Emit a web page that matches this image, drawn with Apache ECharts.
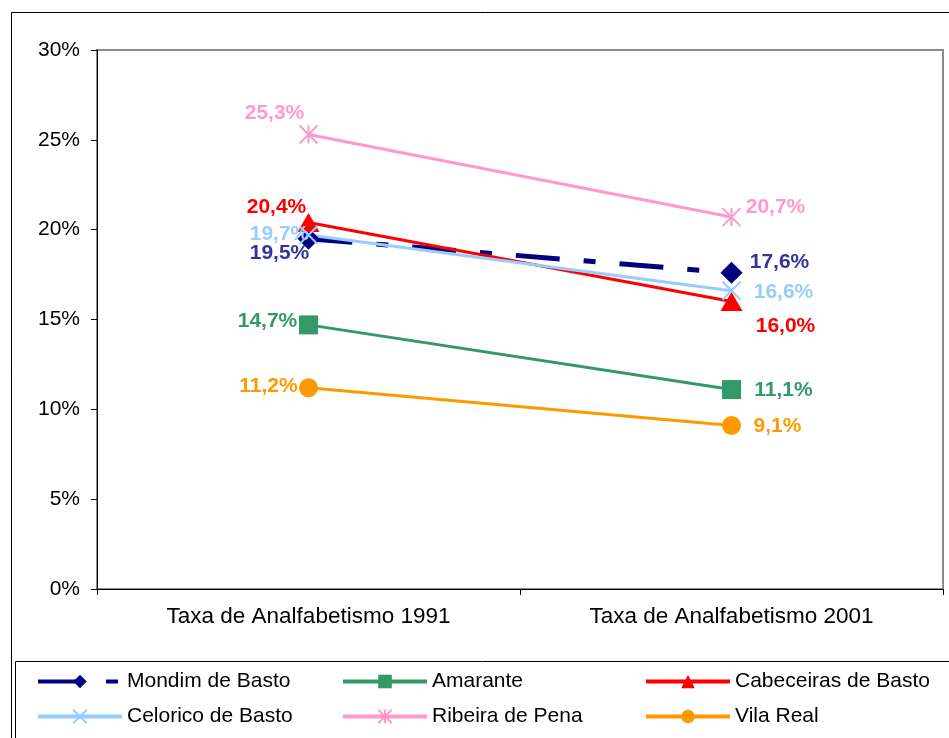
<!DOCTYPE html>
<html>
<head>
<meta charset="utf-8">
<script src="https://cdn.jsdelivr.net/npm/echarts@6/dist/echarts.min.js"></script>
<style>
  html, body { margin: 0; padding: 0; background: #fff; }
  #chart { width: 949px; height: 738px; }
</style>
</head>
<body>
<div id="chart"></div>
<script>
const categories = ['Taxa de Analfabetismo 1991', 'Taxa de Analfabetismo 2001'];
const seriesNames = ['Mondim de Basto', 'Amarante', 'Cabeceiras de Basto', 'Celorico de Basto', 'Ribeira de Pena', 'Vila Real'];
const mondim = [19.5, 17.6];
const amarante = [14.7, 11.1];
const cabeceiras = [20.4, 16.0];
const celorico = [19.7, 16.6];
const ribeira = [25.3, 20.7];
const vilaReal = [11.2, 9.1];
const yTicks = [0, 5, 10, 15, 20, 25, 30];

const font = 'Liberation Sans, Arial, sans-serif';
const fmt = v => v.toFixed(1).replace('.', ',') + '%';

// posição dos rótulos (deslocamento em relação ao marcador)
const styles = [
  { data: mondim, color: '#000080', labelColor: '#333399', symbol: 'diamond', size: 22,
    line: { width: 5, type: [44, 24, 12, 24] }, offsets: [[-29, 15], [48, -11]] },
  { data: amarante, color: '#339966', symbol: 'rect', size: 19, offsets: [[-41, -4], [52, 1]] },
  { data: cabeceiras, color: '#FF0000', symbol: 'triangle', size: [22, 19], offsets: [[-32, -15], [54, 25]] },
  { data: celorico, color: '#99CCFF', symbol: 'path://M0,0L10,10M10,0L0,10', size: 18, stroke: true, offsets: [[-29, -1], [52, 1]] },
  { data: ribeira, color: '#FF99CC', symbol: 'path://M0,0L10,10M10,0L0,10M5,0L5,10', size: 18, stroke: true, offsets: [[-34, -21], [44, -10]] },
  { data: vilaReal, color: '#FF9900', symbol: 'circle', size: 19, offsets: [[-40, -2], [46, 1]] }
];

const series = styles.map((s, i) => ({
  name: seriesNames[i],
  type: 'line',
  data: s.data.map((v, j) => ({
    value: v,
    label: { offset: s.offsets[j] }
  })),
  symbol: s.symbol,
  symbolSize: s.size,
  lineStyle: { color: s.color, width: s.line ? s.line.width : 3, type: s.line ? s.line.type : 'solid' },
  itemStyle: s.stroke
    ? { color: s.color, borderColor: s.color, borderWidth: 2 }
    : { color: s.color },
  label: {
    show: true,
    position: 'inside',
    formatter: p => fmt(p.value),
    color: s.labelColor || s.color,
    fontFamily: font,
    fontWeight: 'bold',
    fontSize: 21
  },
  emphasis: { disabled: true }
}));

const legendCols = [[seriesNames[0], seriesNames[3]], [seriesNames[1], seriesNames[4]], [seriesNames[2], seriesNames[5]]];
const legendLeft = [36, 341, 644];

const chart = echarts.init(document.getElementById('chart'));
chart.setOption({
  animation: false,
  backgroundColor: '#fff',
  grid: {
    left: 97, top: 50, right: 6, bottom: 149,
    show: true, borderColor: '#8c8c8c', borderWidth: 2
  },
  xAxis: {
    type: 'category',
    data: categories,
    boundaryGap: true,
    axisLine: { lineStyle: { color: '#000', width: 1 } },
    axisTick: { show: true, length: 6, lineStyle: { color: '#000' } },
    axisLabel: { color: '#000', fontFamily: font, fontSize: 22.5, margin: 16 },
    splitLine: { show: false }
  },
  yAxis: {
    type: 'value',
    min: yTicks[0],
    max: yTicks[yTicks.length - 1],
    interval: 5,
    axisLine: { show: true, lineStyle: { color: '#000', width: 1 } },
    axisTick: { show: true, length: 6, lineStyle: { color: '#000' } },
    axisLabel: { color: '#000', fontFamily: font, fontSize: 21, margin: 17, formatter: '{value}%' },
    splitLine: { show: false }
  },
  legend: legendCols.map((names, k) => ({
    data: names,
    orient: 'vertical',
    left: legendLeft[k],
    top: 671,
    padding: 0,
    itemWidth: 84,
    itemHeight: 17,
    itemGap: 14,
    lineStyle: { width: 4 },
    textStyle: { color: '#000', fontFamily: font, fontSize: 21 },
    selectedMode: false
  })),
  graphic: [
    { type: 'rect', silent: true, shape: { x: 11.5, y: 12.5, width: 960, height: 760 },
      style: { fill: 'none', stroke: '#000', lineWidth: 1 } },
    { type: 'rect', silent: true, shape: { x: 15.5, y: 661.5, width: 960, height: 100 },
      style: { fill: 'none', stroke: '#000', lineWidth: 1 } }
  ],
  series: series
});
</script>
</body>
</html>
